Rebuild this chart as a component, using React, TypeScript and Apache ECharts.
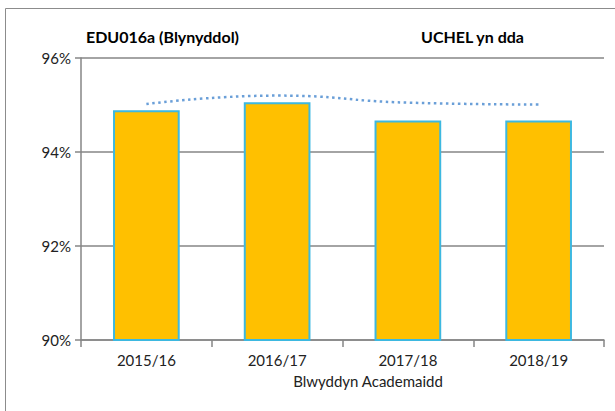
import React, { useEffect, useRef } from "react";
import * as echarts from "echarts";

const categories = ["2015/16", "2016/17", "2017/18", "2018/19"];
const barValues = [94.89, 95.06, 94.67, 94.67];
const lineValues = [95.02, 95.2, 95.05, 95.01];
const yTicks = [90, 92, 94, 96];
const titleLeft = "EDU016a (Blynyddol)";
const titleRight = "UCHEL yn dda";
const xName = "Blwyddyn Academaidd";

const FONT = "Lato, 'DejaVu Sans', sans-serif";

export default function App() {
  const ref = useRef<HTMLDivElement>(null);
  useEffect(() => {
    if (!ref.current) return;
    document.body.style.margin = "0";
    document.body.style.overflow = "hidden";
    const chart = echarts.init(ref.current, undefined, { renderer: "svg" });
    chart.setOption({
      animation: false,
      backgroundColor: "#ffffff",
      textStyle: { fontFamily: FONT },
      grid: { left: 81, right: 11, top: 58, bottom: 71, containLabel: false },
      graphic: [
        {
          type: "line",
          shape: { x1: 5.5, y1: 8.5, x2: 640, y2: 8.5 },
          style: { stroke: "#8c8c8c", lineWidth: 1 },
          silent: true,
        },
        {
          type: "line",
          shape: { x1: 5.5, y1: 8.5, x2: 5.5, y2: 420 },
          style: { stroke: "#8c8c8c", lineWidth: 1 },
          silent: true,
        },
        {
          type: "text",
          left: 86,
          top: 28,
          style: { text: titleLeft, font: `bold 16px ${FONT}`, fill: "#000" },
        },
        {
          type: "text",
          left: 421,
          top: 28,
          style: { text: titleRight, font: `bold 16px ${FONT}`, fill: "#000" },
        },
        {
          type: "text",
          x: 368,
          y: 381,
          style: {
            text: xName,
            font: `15px ${FONT}`,
            fill: "#222",
            align: "center",
            verticalAlign: "middle",
          },
        },
      ],
      xAxis: {
        type: "category",
        data: categories,
        boundaryGap: true,
        axisLine: { show: true, lineStyle: { color: "#868686", width: 1.5 } },
        axisTick: { show: true, length: 7, alignWithLabel: false, lineStyle: { color: "#868686", width: 1.5 } },
        axisLabel: { color: "#222", fontSize: 15, fontFamily: FONT, margin: 12 },
        splitLine: { show: false },
      },
      yAxis: {
        type: "value",
        min: yTicks[0],
        max: yTicks[yTicks.length - 1],
        interval: 2,
        axisLine: { show: true, lineStyle: { color: "#868686", width: 1.5 } },
        axisTick: { show: true, length: 6, inside: false, lineStyle: { color: "#868686", width: 1.5 } },
        axisLabel: {
          color: "#222",
          fontSize: 15,
          fontFamily: FONT,
          margin: 10,
          formatter: (v: number) => `${v}%`,
        },
        splitLine: { show: true, lineStyle: { color: "#868686", width: 1.5 } },
      },
      series: [
        {
          type: "bar",
          data: barValues,
          barWidth: "51%",
          itemStyle: { color: "#FFC000", borderColor: "#3DB8E0", borderWidth: 2 },
          z: 2,
        },
        {
          type: "line",
          data: lineValues,
          smooth: true,
          symbol: "none",
          lineStyle: { color: "#6A9FD8", width: 2.5, type: [2.5, 3.5] },
          z: 3,
        },
      ],
    });
    return () => chart.dispose();
  }, []);
  return (
    <div
      ref={ref}
      style={{ position: "fixed", left: 0, top: 0, width: 615, height: 411 }}
    />
  );
}
